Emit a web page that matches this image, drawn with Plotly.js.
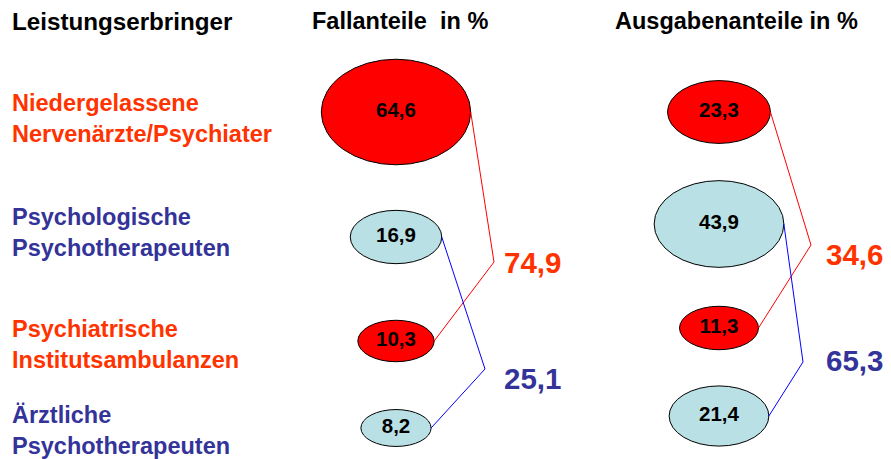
<!DOCTYPE html>
<html>
<head>
<meta charset="utf-8">
<script src="https://cdn.plot.ly/plotly-3.0.1.min.js"></script>
<style>
  html, body { margin: 0; padding: 0; background: #ffffff; }
  #chart { width: 891px; height: 459px; }
</style>
</head>
<body>
<div id="chart"></div>
<script>
// ---------------- DATA ----------------
const rowTitle = 'Leistungserbringer';
const columnTitles = ['Fallanteile\u00a0 in %', 'Ausgabenanteile in %'];
const categories = [
  'Niedergelassene<br>Nervenärzte/Psychiater',
  'Psychologische<br>Psychotherapeuten',
  'Psychiatrische<br>Institutsambulanzen',
  'Ärztliche<br>Psychotherapeuten'
];
const groups = ['Ärzte', 'Psychotherapeuten', 'Ärzte', 'Psychotherapeuten'];
const fallanteile = [64.6, 16.9, 10.3, 8.2];
const ausgabenanteile = [23.3, 43.9, 11.3, 21.4];

// ---------------- STYLE / LAYOUT GRID ----------------
const FONT = 'Liberation Sans, Arial, Helvetica, sans-serif';
const groupOrder = ['Ärzte', 'Psychotherapeuten'];
const groupStyle = {
  'Ärzte':             { fill: '#FF0000', text: '#FF3300', line: '#FF0000' },
  'Psychotherapeuten': { fill: '#B9E0E4', text: '#333399', line: '#0000FF' }
};
const labelRowsY = [118, 232, 344, 430];
const columns = [
  { values: fallanteile,     titleX: 310, cx: 396, rowsY: [112, 237, 341, 428],
    vertexX: [494, 485], vertexY: [262, 369], sumX: 502, sumY: [262, 378] },
  { values: ausgabenanteile, titleX: 613, cx: 719, rowsY: [112, 224, 328, 416],
    vertexX: [811, 803], vertexY: [245, 362], sumX: 824, sumY: [254, 360] }
];
// ellipse size scale (value -> pixel extent)
const ellW = v => 32.5 * Math.pow(v, 0.366);
const ellH = v => 12.65 * Math.pow(v, 0.509);
const fmt = v => (Math.round(v * 10) / 10).toFixed(1).replace('.', ',');

// ---------------- BUILD ----------------
const traces = [];
const shapes = [];
const annotations = [];

annotations.push({ x: 10, y: 21, xref: 'x', yref: 'y', xanchor: 'left', yanchor: 'middle',
  text: '<b>' + rowTitle + '</b>', showarrow: false, font: { family: FONT, size: 24.2, color: '#000' } });

categories.forEach((c, i) => {
  annotations.push({ x: 10, y: labelRowsY[i], xref: 'x', yref: 'y', xanchor: 'left', yanchor: 'middle',
    align: 'left', text: '<b>' + c + '</b>', showarrow: false,
    font: { family: FONT, size: 23.5, color: groupStyle[groups[i]].text } });
});

columns.forEach((col, ci) => {
  annotations.push({ x: col.titleX, y: 21, xref: 'x', yref: 'y', xanchor: 'left', yanchor: 'middle',
    text: '<b>' + columnTitles[ci] + '</b>', showarrow: false, font: { family: FONT, size: 23.5, color: '#000' } });

  // ellipses
  col.values.forEach((v, i) => {
    const w = ellW(v), h = ellH(v), y = col.rowsY[i];
    shapes.push({ type: 'circle', xref: 'x', yref: 'y', layer: 'below',
      x0: col.cx - w / 2, x1: col.cx + w / 2, y0: y - h / 2, y1: y + h / 2,
      fillcolor: groupStyle[groups[i]].fill, line: { color: '#000000', width: 1 } });
  });

  // connectors + sums
  groupOrder.forEach((g, gi) => {
    const idx = groups.map((gg, i) => gg === g ? i : -1).filter(i => i >= 0);
    const xs = [], ys = [];
    xs.push(col.cx + ellW(col.values[idx[0]]) / 2); ys.push(col.rowsY[idx[0]]);
    xs.push(col.vertexX[gi]); ys.push(col.vertexY[gi]);
    xs.push(col.cx + ellW(col.values[idx[1]]) / 2); ys.push(col.rowsY[idx[1]]);
    traces.push({ type: 'scatter', mode: 'lines', x: xs, y: ys, hoverinfo: 'skip',
      line: { color: groupStyle[g].line, width: 1 } });
    const sum = idx.reduce((s, i) => s + col.values[i], 0);
    annotations.push({ x: col.sumX, y: col.sumY[gi], xref: 'x', yref: 'y', xanchor: 'left', yanchor: 'middle',
      text: '<b>' + fmt(sum) + '</b>', showarrow: false,
      font: { family: FONT, size: 29.5, color: groupStyle[g].text } });
  });

  // value labels in ellipses
  traces.push({ type: 'scatter', mode: 'text', x: col.values.map(() => col.cx), y: col.rowsY,
    text: col.values.map(v => '<b>' + fmt(v) + '</b>'), hoverinfo: 'skip', cliponaxis: false,
    textposition: 'middle center', textfont: { family: FONT, size: 20.5, color: '#000' } });
});

const layout = {
  width: 891, height: 459,
  margin: { l: 0, r: 0, t: 0, b: 0 },
  paper_bgcolor: '#ffffff', plot_bgcolor: '#ffffff',
  showlegend: false,
  xaxis: { range: [0, 891], visible: false, fixedrange: true },
  yaxis: { range: [459, 0], visible: false, fixedrange: true },
  shapes: shapes,
  annotations: annotations
};

Plotly.newPlot('chart', traces, layout, { displayModeBar: false, staticPlot: true });
</script>
</body>
</html>
